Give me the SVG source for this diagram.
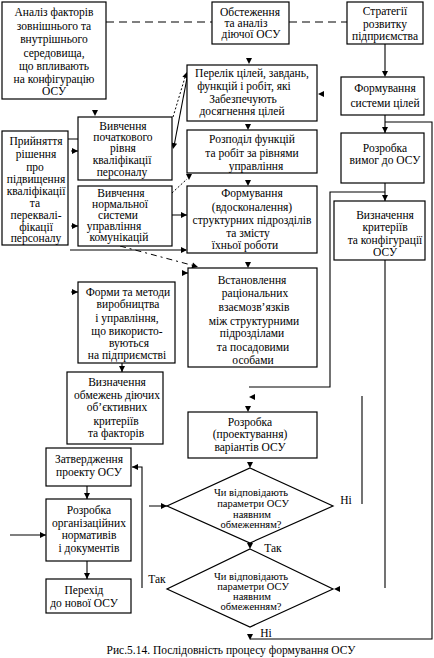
<svg xmlns="http://www.w3.org/2000/svg" width="434" height="658" viewBox="0 0 434 658">
<defs>
<style>
.b{fill:#fff;stroke:#000;stroke-width:1.2}
.l{fill:none;stroke:#000;stroke-width:1.1}
.d{fill:none;stroke:#000;stroke-width:1.1;stroke-dasharray:8 5}
.dd{fill:none;stroke:#000;stroke-width:1;stroke-dasharray:6 4 2 4}
.dt{fill:none;stroke:#000;stroke-width:1;stroke-dasharray:2 2}
text{font-family:"Liberation Serif",serif;font-size:11.5px;fill:#000;text-anchor:middle}
.s{font-size:10.5px}
</style>
<path id="ah" d="M-3,-6 L3,-6 L0,0 Z" fill="#000"/>
</defs>
<rect width="434" height="658" fill="#fff"/>
<g id="connectors">
<path class="d" d="M106,22 H212 M289,22 H347"/>
<path class="l" d="M385,44 V75 M385,115 V133 M385,122 H432 V639 H250 M385,183 V201 M385,192 H330 V387 H249 M385,260 V588 M362,396 V504"/>
<path class="l" d="M68,139 H78 M71,151 H78 M71,226 H78 M172,215 H187 M70,250 H186 M182,273 H188 M71,292 H78 M122,363 V372"/>
<path class="dt" d="M173,117 L186,74"/>
<path class="l" d="M187,78 L174,146"/>
<path class="dt" d="M172,193 L187,179"/>
<path class="dd" d="M120,246 L195,266"/>
<path class="l" d="M149,506 H167 M142,588 V467 H132 M87,486 V499 M10,535 H46 M87,561 V579"/>
<use href="#ah" x="249" y="64"/>
<use href="#ah" x="95" y="116"/>
<use href="#ah" transform="translate(318,94) rotate(90)"/>
<use href="#ah" x="385" y="77"/>
<use href="#ah" x="385" y="133"/>
<use href="#ah" x="385" y="201"/>
<use href="#ah" transform="translate(187,72) rotate(197)"/>
<use href="#ah" transform="translate(173,149) rotate(11)"/>
<use href="#ah" transform="translate(78,151) rotate(-90)"/>
<use href="#ah" transform="translate(78,226) rotate(-90)"/>
<use href="#ah" x="248" y="130"/>
<use href="#ah" x="189" y="180"/>
<use href="#ah" x="248" y="186"/>
<use href="#ah" transform="translate(187,215) rotate(-90)"/>
<use href="#ah" transform="translate(187,250) rotate(-90)"/>
<use href="#ah" transform="translate(198,267) rotate(-75)"/>
<use href="#ah" transform="translate(188,273) rotate(-90)"/>
<use href="#ah" x="248" y="268"/>
<use href="#ah" transform="translate(78,292) rotate(-90)"/>
<use href="#ah" x="122" y="372"/>
<use href="#ah" transform="translate(249,397) rotate(90)"/>
<use href="#ah" x="248" y="412"/>
<use href="#ah" x="250" y="468"/>
<use href="#ah" transform="translate(167,506) rotate(-90)"/>
<use href="#ah" x="250" y="549"/>
<use href="#ah" transform="translate(334,589) rotate(90)"/>
<use href="#ah" x="250" y="640"/>
<use href="#ah" transform="translate(132,467) rotate(90)"/>
<use href="#ah" x="87" y="499"/>
<use href="#ah" transform="translate(46,535) rotate(-90)"/>
<use href="#ah" x="87" y="579"/>
</g>
<g id="analiz">
<rect class="b" x="2" y="2" width="104" height="97"/>
<text x="54" y="16">Аналіз факторів</text>
<text x="54" y="30">зовнішнього та</text>
<text x="54" y="43">внутрішнього</text>
<text x="54" y="57">середовища,</text>
<text x="54" y="70">що впливають</text>
<text x="54" y="83">на конфігурацію</text>
<text x="54" y="95">ОСУ</text>
</g>
<g id="obstezhennia">
<rect class="b" x="212" y="2" width="77" height="42"/>
<text x="250" y="16">Обстеження</text>
<text x="246" y="27">та аналіз</text>
<text x="251" y="38">діючої ОСУ</text>
</g>
<g id="stratehii">
<rect class="b" x="347" y="2" width="76" height="42"/>
<text x="385" y="15">Стратегії</text>
<text x="385" y="28">розвитку</text>
<text x="385" y="40">підприємства</text>
</g>
<g id="perelik">
<rect class="b" x="187" y="65" width="130" height="56"/>
<text x="252" y="77">Перелік цілей, завдань,</text>
<text x="244" y="90">функцій і робіт, які</text>
<text x="243" y="103">Забезпечують</text>
<text x="242" y="115">досягнення цілей</text>
</g>
<g id="formuvannia-tsilei">
<rect class="b" x="341" y="77" width="83" height="38"/>
<text x="385" y="92">Формування</text>
<text x="385" y="107">системи цілей</text>
</g>
<g id="pryiniattia">
<rect class="b" x="2" y="131" width="66" height="114"/>
<text x="36" y="145">Прийняття</text>
<text x="36" y="158">рішення</text>
<text x="35" y="171">про</text>
<text x="36" y="183">підвищення</text>
<text x="36" y="195">кваліфікації</text>
<text x="35" y="207">та</text>
<text x="36" y="219">переквалі-</text>
<text x="36" y="231">фікації</text>
<text x="36" y="242">персоналу</text>
</g>
<g id="vyvchennia-pochatkovoho">
<rect class="b" x="78" y="117" width="94" height="63"/>
<text x="123" y="130">Вивчення</text>
<text x="123" y="141">початкового</text>
<text x="123" y="152">рівня</text>
<text x="122" y="164">кваліфікації</text>
<text x="122" y="176">персоналу</text>
</g>
<g id="rozpodil">
<rect class="b" x="187" y="130" width="130" height="43"/>
<text x="252" y="143">Розподіл функцій</text>
<text x="252" y="157">та робіт за рівнями</text>
<text x="256" y="170">управління</text>
</g>
<g id="rozrobka-vymoh">
<rect class="b" x="341" y="133" width="83" height="50"/>
<text x="385" y="152">Розробка</text>
<text x="385" y="164">вимог до ОСУ</text>
</g>
<g id="vyvchennia-normalnoi">
<rect class="b" x="78" y="186" width="94" height="60"/>
<text x="121" y="197">Вивчення</text>
<text x="120" y="208">нормальної</text>
<text x="118" y="219">системи</text>
<text x="114" y="230">управління</text>
<text x="119" y="241">комунікацій</text>
</g>
<g id="formuvannia-vdoskonalennia">
<rect class="b" x="187" y="186" width="130" height="67"/>
<text x="252" y="197">Формування</text>
<text x="252" y="211">(вдосконалення)</text>
<text x="252" y="224">структурних підрозділів</text>
<text x="248" y="237">та  змісту</text>
<text x="245" y="249">їхньої роботи</text>
</g>
<g id="vyznachennia-kryteriiv">
<rect class="b" x="334" y="201" width="91" height="59"/>
<text x="385" y="219">Визначення</text>
<text x="385" y="231">критеріїв</text>
<text x="385" y="244">та конфігурації</text>
<text x="385" y="256">ОСУ</text>
</g>
<g id="vstanovlennia">
<rect class="b" x="188" y="268" width="129" height="99"/>
<text x="252" y="284">Встановлення</text>
<text x="255" y="297">раціональних</text>
<text x="254" y="311">взаємозв’язків</text>
<text x="254" y="325">між структурними</text>
<text x="252" y="337">підрозділами</text>
<text x="253" y="351">та посадовими</text>
<text x="253" y="364">особами</text>
</g>
<g id="formy-metody">
<rect class="b" x="78" y="282" width="97" height="81"/>
<text x="128" y="296">Форми та методи</text>
<text x="128" y="308">виробництва</text>
<text x="127" y="322">і управління,</text>
<text x="127" y="335">що використо-</text>
<text x="129" y="347">вуються</text>
<text x="127" y="359">на підприємстві</text>
</g>
<g id="vyznachennia-obmezhen">
<rect class="b" x="67" y="372" width="96" height="72"/>
<text x="117" y="386">Визначення</text>
<text x="117" y="399">обмежень діючих</text>
<text x="117" y="411">об’єктивних</text>
<text x="116" y="425">критеріїв</text>
<text x="116" y="437">та факторів</text>
</g>
<g id="rozrobka-proektuvannia">
<rect class="b" x="188" y="412" width="129" height="46"/>
<text x="250" y="426">Розробка</text>
<text x="250" y="438">(проектування)</text>
<text x="250" y="451">варіантів ОСУ</text>
</g>
<g id="decision1">
<polygon class="b" points="250,468 333,506 250,543 167,506"/>
<text class="s" x="251" y="496">Чи відповідають</text>
<text class="s" x="253" y="507">параметри ОСУ</text>
<text class="s" x="252" y="518">наявним</text>
<text class="s" x="251" y="528">обмеженням?</text>
<text x="346" y="504">Ні</text>
<text x="273" y="552">Так</text>
</g>
<g id="decision2">
<polygon class="b" points="250,549 333,589 250,627 167,589"/>
<text class="s" x="251" y="580">Чи відповідають</text>
<text class="s" x="253" y="590">параметри ОСУ</text>
<text class="s" x="252" y="600">наявним</text>
<text class="s" x="251" y="610">обмеженням?</text>
<text x="157" y="583">Так</text>
<text x="266" y="637">Ні</text>
</g>
<g id="zatverdzhennia">
<rect class="b" x="46" y="448" width="85" height="38"/>
<text x="89" y="463">Затвердження</text>
<text x="89" y="476">проекту ОСУ</text>
</g>
<g id="rozrobka-normatyviv">
<rect class="b" x="46" y="499" width="85" height="62"/>
<text x="89" y="514">Розробка</text>
<text x="89" y="527">організаційних</text>
<text x="89" y="539">нормативів</text>
<text x="89" y="552">і документів</text>
</g>
<g id="perekhid">
<rect class="b" x="46" y="579" width="85" height="34"/>
<text x="84" y="594">Перехід</text>
<text x="84" y="607">до нової ОСУ</text>
</g>
<text x="231" y="654">Рис.5.14. Послідовність  процесу формування ОСУ</text>
</svg>
